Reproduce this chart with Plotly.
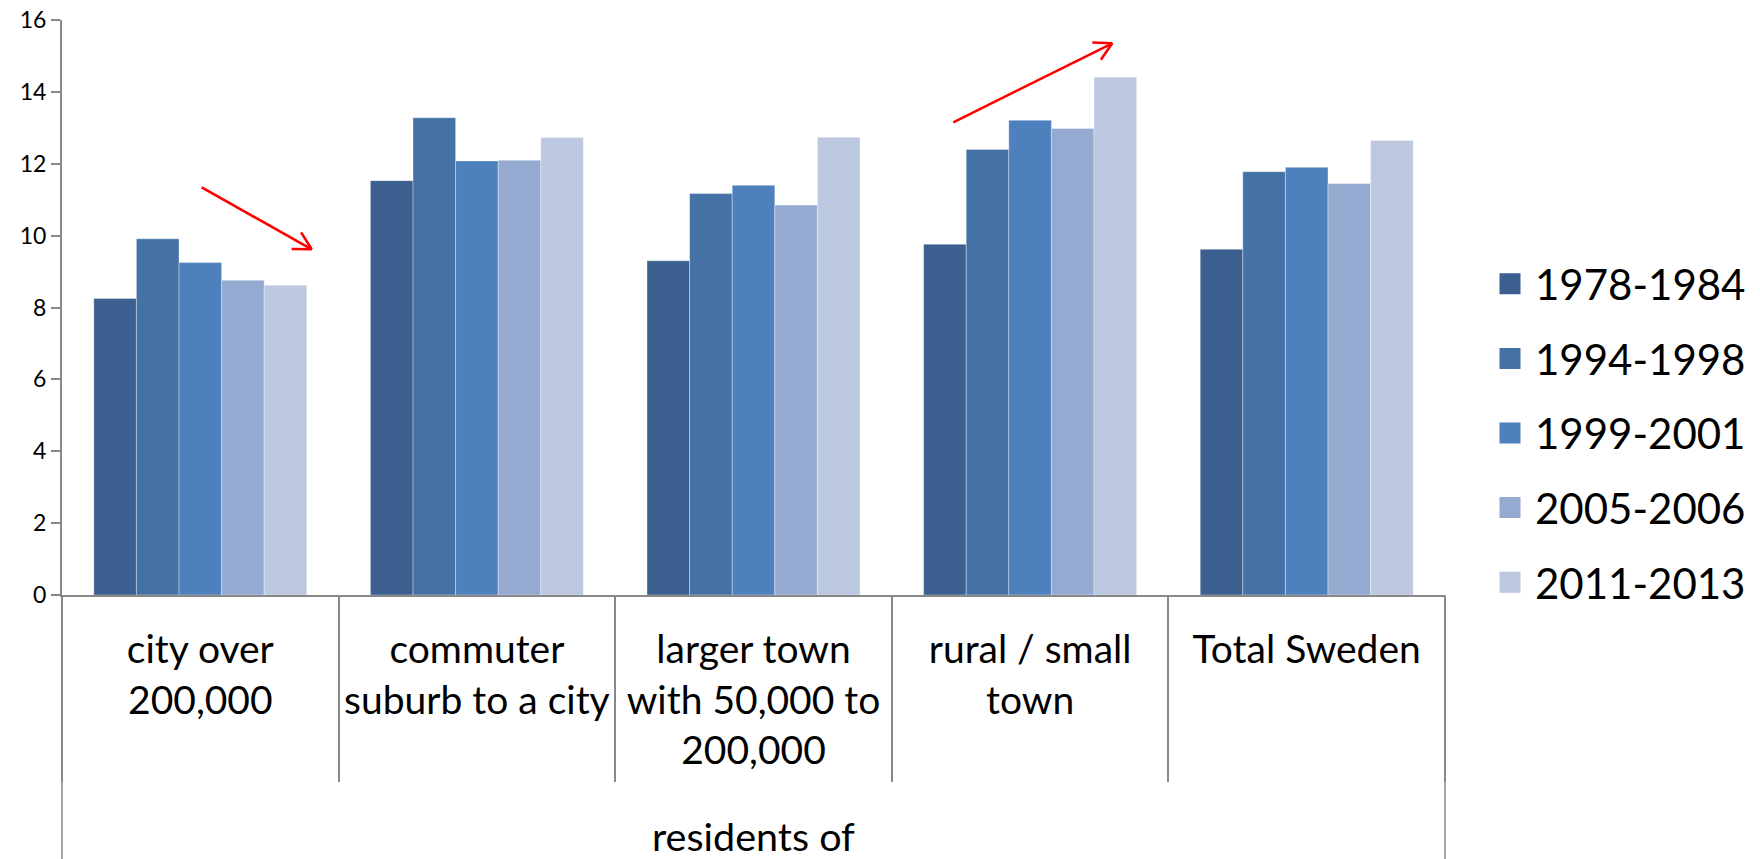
import math
import plotly.graph_objects as go

# ---------------- data ----------------
categories = [
    "city over<br>200,000",
    "commuter<br>suburb to a city",
    "larger town<br>with 50,000 to<br>200,000",
    "rural / small<br>town",
    "Total Sweden",
]
outer_label = "residents of"
periods = ["1978-1984", "1994-1998", "1999-2001", "2005-2006", "2011-2013"]
v_1978_1984 = [8.25, 11.53, 9.30, 9.76, 9.62]
v_1994_1998 = [9.91, 13.28, 11.17, 12.40, 11.78]
v_1999_2001 = [9.25, 12.08, 11.40, 13.21, 11.90]
v_2005_2006 = [8.76, 12.10, 10.85, 12.98, 11.45]
v_2011_2013 = [8.62, 12.73, 12.74, 14.41, 12.65]
series_values = [v_1978_1984, v_1994_1998, v_1999_2001, v_2005_2006, v_2011_2013]
y_tick_values = [0, 2, 4, 6, 8, 10, 12, 14, 16]

# ---------------- style ----------------
colors = ["#3B5F8E", "#4472A6", "#4D80BC", "#95AAD0", "#BBC8E0"]
FONT = "Lato, 'Open Sans', sans-serif"
AXIS_COLOR = "#888888"
W, H = 1760, 859
L, R, T, B = 62, 1445, 20, 595  # plot area in pixels


def px_to_paper(px, py):
    return (px - L) / (R - L), (B - py) / (B - T)


fig = go.Figure()
for name, vals, col in zip(periods, series_values, colors):
    fig.add_trace(go.Bar(
        x=categories, y=vals, name=name,
        marker=dict(color=col, line=dict(color="rgba(255,255,255,0.35)", width=1)),
        showlegend=False,
    ))
# legend entries (larger square symbols)
for name, col in zip(periods, colors):
    fig.add_trace(go.Scatter(
        x=[None], y=[None], mode="markers", name=name, legendgroup=name,
        marker=dict(symbol="square", size=16, color=col, line=dict(color=col, width=5)),
        showlegend=True,
    ))

shapes = []
# outer group edges extending to the bottom
for xp in (0, 1):
    shapes.append(dict(type="line", xref="paper", yref="paper", x0=xp, x1=xp,
                       y0=0, y1=-(H - B) / (B - T), line=dict(color=AXIS_COLOR, width=1.5)))

# red trend arrows (start px, tip px)
arrows = [((201.7, 187.3), (311.7, 249.3)), ((953.3, 122.3), (1112.3, 43.3))]
for (sx, sy), (tx, ty) in arrows:
    x0, y0 = px_to_paper(sx, sy)
    x1, y1 = px_to_paper(tx, ty)
    shapes.append(dict(type="line", xref="paper", yref="paper", x0=x0, y0=y0, x1=x1, y1=y1,
                       line=dict(color="#FF0000", width=2.6)))
    back = math.atan2(sy - ty, sx - tx)
    for d in (-0.50, 0.50):
        ax_ = tx + 20 * math.cos(back + d)
        ay_ = ty + 20 * math.sin(back + d)
        xa, ya = px_to_paper(ax_, ay_)
        shapes.append(dict(type="line", xref="paper", yref="paper", x0=x1, y0=y1, x1=xa, y1=ya,
                           line=dict(color="#FF0000", width=2.6)))

fig.update_layout(
    template="none",
    width=W, height=H,
    margin=dict(l=L, r=W - R, t=T, b=H - B, pad=0, autoexpand=False),
    paper_bgcolor="white", plot_bgcolor="white",
    barmode="group", bargap=0.23, bargroupgap=0,
    font=dict(family=FONT, color="black"),
    showlegend=True,
    legend=dict(
        xref="container", yref="container",
        x=1485 / W, y=1 - 250 / H,
        xanchor="left", yanchor="top",
        font=dict(family=FONT, size=42, color="black"),
        itemwidth=40, tracegroupgap=17, bgcolor="rgba(0,0,0,0)",
        borderwidth=0,
    ),
    shapes=shapes,
    annotations=[dict(
        text=outer_label, xref="paper", yref="paper", x=0.5, y=px_to_paper(0, 836)[1],
        xanchor="center", yanchor="middle", showarrow=False,
        font=dict(family=FONT, size=39.5, color="black"),
    )],
)

fig.update_xaxes(
    type="category", automargin=False,
    showline=True, linecolor=AXIS_COLOR, linewidth=2,
    tickson="boundaries", ticks="outside", ticklen=185, tickwidth=1.5, tickcolor=AXIS_COLOR,
    tickfont=dict(family=FONT, size=39, color="black"),
    ticklabelstandoff=19,
    showgrid=False, zeroline=False,
)
fig.update_yaxes(
    range=[0, 16], tickmode="array", tickvals=y_tick_values, automargin=False,
    showline=True, linecolor=AXIS_COLOR, linewidth=2,
    ticks="outside", ticklen=9, tickwidth=1.5, tickcolor=AXIS_COLOR,
    tickfont=dict(family=FONT, size=23, color="black"),
    showgrid=False, zeroline=False,
)

fig.write_html("out.html")
